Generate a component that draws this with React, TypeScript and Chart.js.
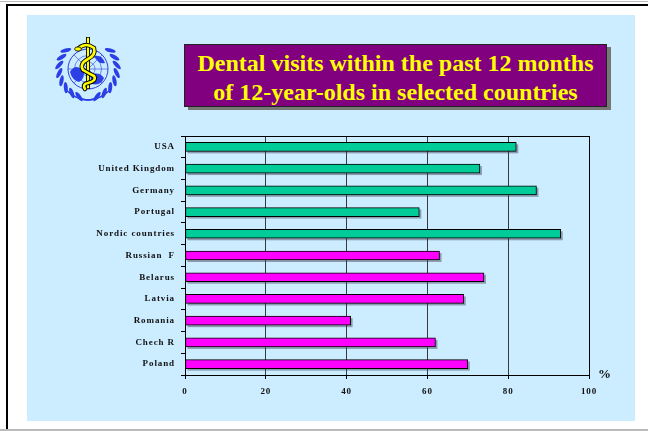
import React, { useEffect, useRef } from "react";
import { Chart, registerables } from "chart.js";

Chart.register(...registerables);

const categories = [
  "USA",
  "United Kingdom",
  "Germany",
  "Portugal",
  "Nordic countries",
  "Russian  F",
  "Belarus",
  "Latvia",
  "Romania",
  "Chech R",
  "Poland",
];
const visitValues = [82, 73, 87, 58, 93, 63, 74, 69, 41, 62, 70];
const barColors = [
  "#00CC99", "#00CC99", "#00CC99", "#00CC99", "#00CC99",
  "#FF00FF", "#FF00FF", "#FF00FF", "#FF00FF", "#FF00FF", "#FF00FF",
];
const xTickMin = 0;
const xTickMax = 100;
const xTickStep = 20;
const titleLines = [
  "Dental visits within the past 12 months",
  "of 12-year-olds in selected countries",
];
const unitLabel = "%";

const SERIF = '"Liberation Serif", "Times New Roman", serif';

const framePlugin = {
  id: "frameBox",
  beforeDraw(chart: any) {
    chart.ctx.letterSpacing = "0.9px";
  },
  beforeDatasetsDraw(chart: any) {
    const ctx = chart.ctx;
    ctx.save();
    ctx.fillStyle = "rgba(60,60,80,0.45)";
    chart.getSortedVisibleDatasetMetas().forEach((meta: any) => {
      meta.data.forEach((el: any) => {
        const p = el.getProps(["x", "y", "base", "height"], true);
        const l = Math.min(p.x, p.base);
        const r = Math.max(p.x, p.base);
        ctx.fillRect(l + 2, p.y - p.height / 2 + 2, r - l, p.height);
      });
    });
    ctx.restore();
  },
  afterDraw(chart: any) {
    const { left, right, top, bottom } = chart.chartArea;
    const ctx = chart.ctx;
    ctx.save();
    ctx.strokeStyle = "#000";
    ctx.lineWidth = 1;
    ctx.strokeRect(Math.round(left) + 0.5, Math.round(top) + 0.5, Math.round(right - left), Math.round(bottom - top));
    ctx.restore();
  },
};

function WhoLogo() {
  const blue = "#2a3fe6";
  const cx = 38;
  const cy = 36;
  const R = 29;
  const leaves: any[] = [];
  for (const side of [-1, 1]) {
    for (let i = 0; i < 8; i++) {
      const th = 50 + i * 16;
      const rad = (th * Math.PI) / 180;
      const lx = cx + side * Math.sin(rad) * R;
      const ly = cy - Math.cos(rad) * R;
      leaves.push(
        <ellipse
          key={`${side}-${i}`}
          cx={lx}
          cy={ly}
          rx={2}
          ry={5.6}
          transform={`rotate(${side * (th + 55)} ${lx} ${ly})`}
          fill={blue}
        />
      );
    }
  }
  const snake = `M ${cx - 9} ${cy - 21} Q ${cx - 2} ${cy - 27} ${cx + 6} ${cy - 21} Q ${cx + 8} ${cy - 14} ${cx} ${cy - 10} Q ${cx - 9} ${cy - 5} ${cx - 5} ${cy + 1} Q ${cx} ${cy + 4} ${cx + 6} ${cy + 7} Q ${cx + 9} ${cy + 12} ${cx} ${cy + 14} Q ${cx - 6} ${cy + 15} ${cx - 3} ${cy + 20}`;
  return (
    <svg width="76" height="76" viewBox="0 0 76 76" style={{ position: "absolute", left: 50, top: 33 }}>
      <path d={`M ${cx - 22} ${cy + 21} Q ${cx - 8} ${cy + 34} ${cx + 6} ${cy + 30}`} stroke={blue} strokeWidth={1.6} fill="none" />
      <path d={`M ${cx + 22} ${cy + 21} Q ${cx + 8} ${cy + 34} ${cx - 6} ${cy + 30}`} stroke={blue} strokeWidth={1.6} fill="none" />
      {leaves}
      <circle cx={cx} cy={cy} r={20} fill="none" stroke={blue} strokeWidth={1} />
      <circle cx={cx} cy={cy} r={13.5} fill="none" stroke={blue} strokeWidth={0.6} />
      <circle cx={cx} cy={cy} r={7} fill="none" stroke={blue} strokeWidth={0.6} />
      {[0, 45, 90, 135].map((d) => (
        <line
          key={d}
          x1={cx + 20 * Math.cos((d * Math.PI) / 180)}
          y1={cy + 20 * Math.sin((d * Math.PI) / 180)}
          x2={cx - 20 * Math.cos((d * Math.PI) / 180)}
          y2={cy - 20 * Math.sin((d * Math.PI) / 180)}
          stroke={blue}
          strokeWidth={0.6}
        />
      ))}
      <path d={`M ${cx - 18} ${cy + 3} Q ${cx - 13} ${cy - 6} ${cx - 5} ${cy + 1} Q ${cx - 2} ${cy + 9} ${cx - 9} ${cy + 13} Q ${cx - 16} ${cy + 11} ${cx - 18} ${cy + 3} Z`} fill={blue} />
      <path d={`M ${cx + 2} ${cy + 6} Q ${cx + 11} ${cy + 2} ${cx + 16} ${cy + 9} Q ${cx + 13} ${cy + 17} ${cx + 4} ${cy + 15} Z`} fill={blue} />
      <path d={`M ${cx + 6} ${cy - 13} Q ${cx + 14} ${cy - 15} ${cx + 17} ${cy - 6} Q ${cx + 11} ${cy - 4} ${cx + 6} ${cy - 13} Z`} fill={blue} />
      <line x1={cx} y1={4} x2={cx} y2={56} stroke="#000" strokeWidth={4} />
      <line x1={cx} y1={4.7} x2={cx} y2={55.3} stroke="#ffff00" strokeWidth={2.2} />
      <path d={snake} stroke="#000" strokeWidth={4.4} fill="none" strokeLinecap="round" />
      <path d={snake} stroke="#ffff00" strokeWidth={2.6} fill="none" strokeLinecap="round" />
      <ellipse cx={cx - 10} cy={cy - 20} rx={3.4} ry={2.1} fill="#ffff00" stroke="#000" strokeWidth={0.8} />
    </svg>
  );
}

export default function App() {
  const canvasRef = useRef<HTMLCanvasElement | null>(null);

  useEffect(() => {
    const canvas = canvasRef.current;
    if (!canvas) return;
    const chart = new Chart(canvas, {
      type: "bar",
      data: {
        labels: categories,
        datasets: [
          {
            data: visitValues,
            backgroundColor: barColors,
            borderColor: "#000",
            borderWidth: 1,
            borderSkipped: false,
            barThickness: 9,
          },
        ],
      },
      options: {
        indexAxis: "y",
        responsive: false,
        animation: false,
        devicePixelRatio: 1,
        layout: { padding: { top: 16, right: 46, bottom: 0, left: 0 } },
        plugins: {
          legend: { display: false },
          tooltip: { enabled: false },
          title: { display: false },
        },
        scales: {
          x: {
            min: xTickMin,
            max: xTickMax,
            ticks: {
              stepSize: xTickStep,
              color: "#111",
              padding: 7,
              font: { family: SERIF, size: 9, weight: "bold" },
              maxRotation: 0,
            },
            grid: {
              color: "#3a3a3a",
              lineWidth: 1,
              drawTicks: true,
              tickLength: 4,
              tickColor: "#000",
            },
            border: { display: true, color: "#000", width: 1 },
            afterFit: (scale: any) => {
              scale.height = 45;
            },
          },
          y: {
            ticks: {
              color: "#111",
              padding: 6,
              font: { family: SERIF, size: 9, weight: "bold" },
            },
            grid: {
              drawOnChartArea: false,
              drawTicks: true,
              tickLength: 4,
              color: "#000",
            },
            border: { display: true, color: "#000", width: 1 },
            afterFit: (scale: any) => {
              scale.width = 158;
            },
          },
        },
      },
      plugins: [framePlugin],
    });
    return () => chart.destroy();
  }, []);

  return (
    <div style={{ position: "fixed", left: 0, top: 0, width: 648, height: 431, background: "#fff", overflow: "hidden" }}>
      <div style={{ position: "absolute", left: 0, top: 1, width: 648, height: 1, background: "#bbb" }} />
      <div style={{ position: "absolute", left: 0, top: 429, width: 648, height: 2, background: "#bbb" }} />
      <div style={{ position: "absolute", left: 6, top: 4, width: 642, height: 2, background: "#000" }} />
      <div style={{ position: "absolute", left: 6, top: 4, width: 2, height: 425, background: "#000" }} />
      <div style={{ position: "absolute", left: 27, top: 15, width: 608, height: 406, background: "#CCECFF" }} />
      <WhoLogo />
      <div
        style={{
          position: "absolute",
          left: 184,
          top: 44,
          width: 423,
          height: 63,
          boxSizing: "border-box",
          background: "#800080",
          border: "1px solid #222",
          boxShadow: "4px 3px 0 #777",
          color: "#FFFF00",
          fontFamily: SERIF,
          fontWeight: "bold",
          fontSize: 24,
          lineHeight: "28.7px",
          textAlign: "center",
          paddingTop: 4,
          whiteSpace: "nowrap",
        }}
      >
        {titleLines.map((t) => (
          <div key={t}>{t}</div>
        ))}
      </div>
      <canvas
        ref={canvasRef}
        width={608}
        height={300}
        style={{ position: "absolute", left: 27, top: 120, width: 608, height: 300 }}
      />
      <div
        style={{
          position: "absolute",
          left: 598,
          top: 366,
          fontFamily: SERIF,
          fontWeight: "bold",
          fontSize: 13,
          color: "#111",
        }}
      >
        {unitLabel}
      </div>
    </div>
  );
}
